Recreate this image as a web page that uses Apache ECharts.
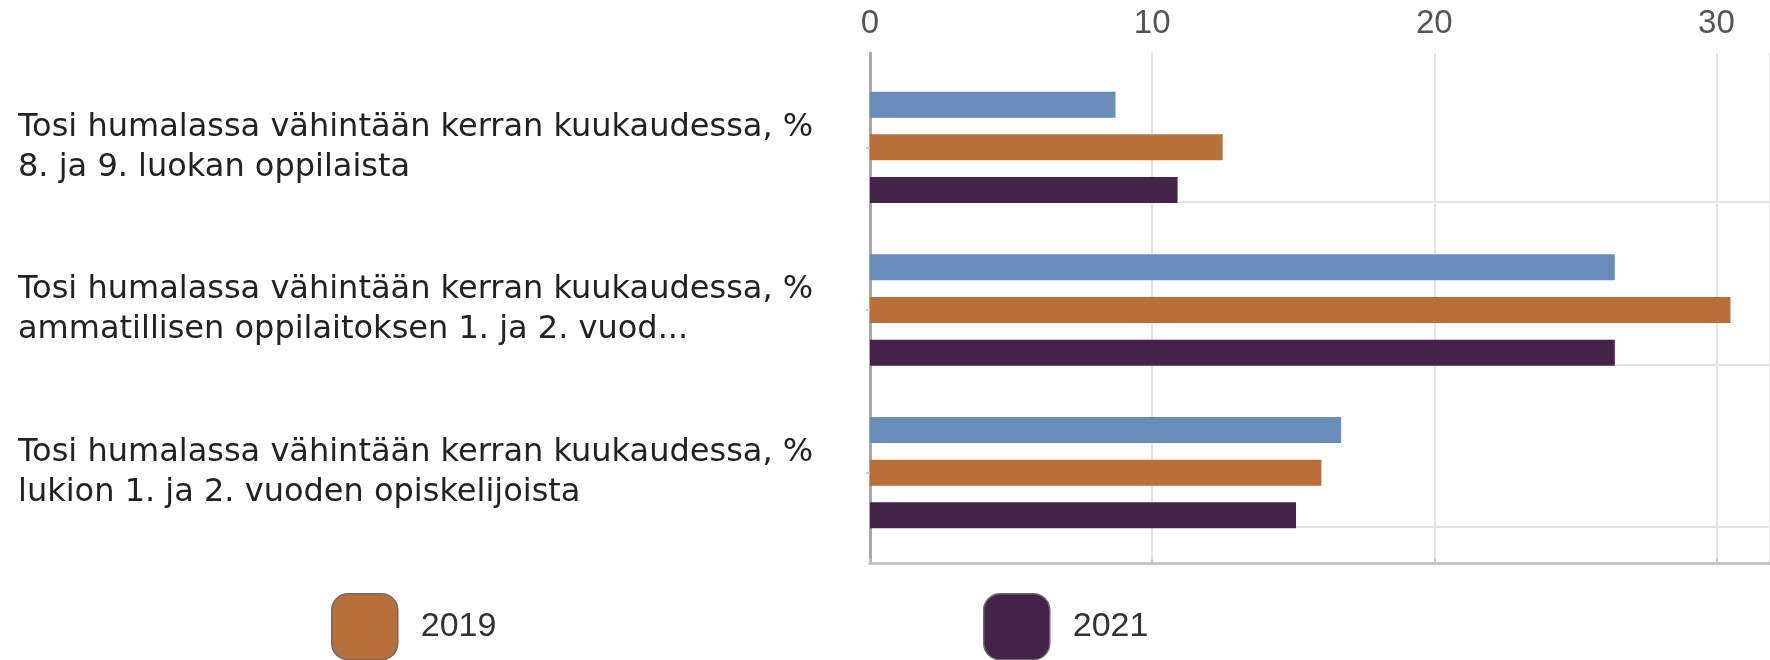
<!DOCTYPE html>
<html>
<head>
<meta charset="utf-8">
<script src="https://cdn.jsdelivr.net/npm/echarts@6/dist/echarts.min.js"></script>
<style>
  html, body { margin: 0; padding: 0; background: #fff; }
  #chart { width: 1770px; height: 660px; }
</style>
</head>
<body>
<div id="chart"></div>
<script>
  // data
  var categories = [
    'Tosi humalassa vähintään kerran kuukaudessa, %\n8. ja 9. luokan oppilaista',
    'Tosi humalassa vähintään kerran kuukaudessa, %\nammatillisen oppilaitoksen 1. ja 2. vuod...',
    'Tosi humalassa vähintään kerran kuukaudessa, %\nlukion 1. ja 2. vuoden opiskelijoista'
  ];
  var seriesNames = ['2017', '2019', '2021'];
  var values2017 = [8.7, 26.4, 16.7];
  var values2019 = [12.5, 30.5, 16.0];
  var values2021 = [10.9, 26.4, 15.1];
  var legendNames = ['2019', '2021'];
  // the plot is cut off at the right edge, a bit past 30
  var xMin = 0, xMax = 31.9, xStep = 10;

  var colors = ['#6a8cb8', '#b96f39', '#452249'];
  var plotLeft = 870;

  var chart = echarts.init(document.getElementById('chart'));

  function legendAt(name, left) {
    return {
      data: [name],
      left: left,
      top: 593,
      padding: 0,
      icon: 'roundRect',
      itemWidth: 66,
      itemHeight: 66,
      selectedMode: false,
      itemStyle: { borderColor: '#6b6b6b', borderWidth: 1.5 },
      textStyle: {
        fontFamily: 'Liberation Sans',
        fontSize: 34,
        color: '#333',
        padding: [0, 0, 0, 18]
      }
    };
  }

  chart.setOption({
    animation: false,
    color: colors,
    legend: [legendAt(legendNames[0], 331), legendAt(legendNames[1], 983)],
    grid: [
      // bars
      { left: plotLeft, right: 0, top: 66, height: 488 },
      // frame with top axis
      { left: plotLeft, right: 0, top: 53, height: 510.5 },
      // horizontal grid lines
      { left: plotLeft, right: 0, top: 201.5, height: 325.5 }
    ],
    xAxis: [
      { gridIndex: 0, type: 'value', min: xMin, max: xMax, interval: xStep, show: false },
      {
        gridIndex: 1, type: 'value', position: 'top',
        min: xMin, max: xMax, interval: xStep,
        axisLine: { show: true, lineStyle: { color: '#a8a8a8', width: 3 } },
        axisTick: { show: true, length: 5, lineStyle: { color: '#c8c8c8', width: 1.5 } },
        axisLabel: { fontFamily: 'Liberation Sans', fontSize: 33, color: '#555', margin: 13, showMaxLabel: false },
        splitLine: { show: true, lineStyle: { color: '#e4e4e4', width: 2 } }
      },
      {
        gridIndex: 1, type: 'value', position: 'bottom',
        min: xMin, max: xMax, interval: xStep,
        axisLine: { show: true, lineStyle: { color: '#c6c6c6', width: 3 } },
        axisTick: { show: false }, axisLabel: { show: false }, splitLine: { show: false }
      },
      { gridIndex: 2, type: 'value', min: xMin, max: xMax, show: false }
    ],
    yAxis: [
      {
        gridIndex: 0, type: 'category', inverse: true, data: categories,
        axisLine: { show: false },
        axisTick: { show: true, alignWithLabel: true, length: 4, lineStyle: { color: '#c0c0c0', width: 1.5 } },
        axisLabel: {
          align: 'left', margin: 852,
          fontFamily: 'DejaVu Sans', fontSize: 32, lineHeight: 40, color: '#222'
        },
        splitLine: { show: false }
      },
      {
        gridIndex: 1, type: 'value', min: 0, max: 1,
        axisLine: { show: true, lineStyle: { color: '#a8a8a8', width: 3 } },
        axisTick: { show: false }, axisLabel: { show: false }, splitLine: { show: false }
      },
      {
        gridIndex: 2, type: 'category', data: ['', ''],
        axisLine: { show: false }, axisTick: { show: false }, axisLabel: { show: false },
        splitLine: { show: true, lineStyle: { color: '#e4e4e4', width: 2 } }
      }
    ],
    series: [
      { name: seriesNames[0], type: 'bar', xAxisIndex: 0, yAxisIndex: 0, barWidth: 26, barGap: '64%', data: values2017 },
      { name: seriesNames[1], type: 'bar', xAxisIndex: 0, yAxisIndex: 0, barWidth: 26, barGap: '64%', data: values2019 },
      { name: seriesNames[2], type: 'bar', xAxisIndex: 0, yAxisIndex: 0, barWidth: 26, barGap: '64%', data: values2021 }
    ]
  });
</script>
</body>
</html>
